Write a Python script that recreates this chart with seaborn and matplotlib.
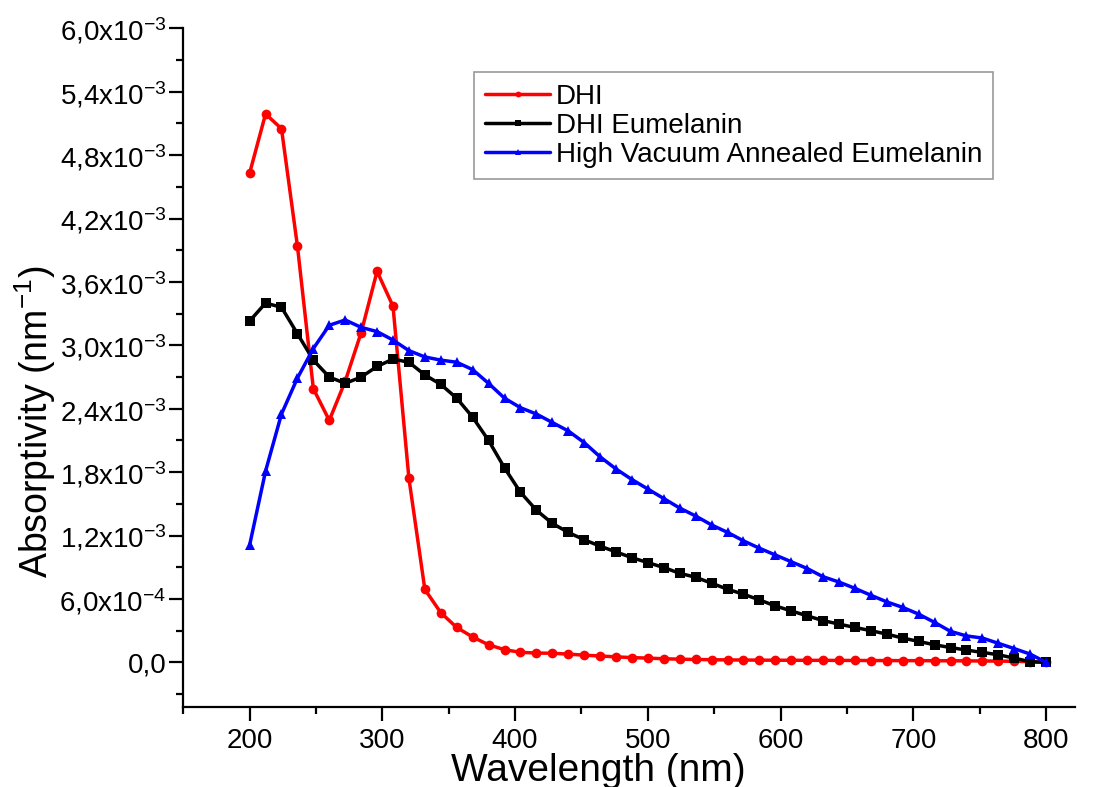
import matplotlib
matplotlib.use('Agg')
import matplotlib.pyplot as plt
import seaborn as sns
import pandas as pd
from matplotlib.ticker import MultipleLocator, FuncFormatter

# wavelength grid of the markers (nm)
wavelength = list(range(200, 801, 12))

# absorptivity in units of 1e-3 nm^-1
dhi = [4.63, 5.19, 5.05, 3.94, 2.59, 2.29, 2.66, 3.12, 3.70, 3.37,
       1.74, 0.69, 0.47, 0.33, 0.24, 0.166, 0.12, 0.095, 0.088, 0.086,
       0.078, 0.068, 0.060, 0.052, 0.045, 0.040, 0.034, 0.030, 0.027, 0.025,
       0.023, 0.022, 0.021, 0.020, 0.020, 0.019, 0.019, 0.018, 0.018, 0.017,
       0.017, 0.016, 0.016, 0.015, 0.015, 0.014, 0.013, 0.012, 0.010, 0.006,
       0.0]
dhi_eumelanin = [3.23, 3.40, 3.36, 3.11, 2.86, 2.70, 2.64, 2.70, 2.80, 2.87,
                 2.84, 2.72, 2.63, 2.50, 2.32, 2.10, 1.84, 1.61, 1.44, 1.315,
                 1.23, 1.16, 1.10, 1.045, 0.99, 0.944, 0.897, 0.843, 0.805, 0.749,
                 0.692, 0.645, 0.591, 0.534, 0.487, 0.44, 0.395, 0.362, 0.33, 0.30,
                 0.267, 0.23, 0.198, 0.166, 0.14, 0.116, 0.094, 0.072, 0.04, 0.006,
                 0.0]
hv_eumelanin = [1.11, 1.81, 2.35, 2.69, 2.97, 3.19, 3.24, 3.17, 3.13, 3.05,
                2.95, 2.89, 2.86, 2.84, 2.77, 2.64, 2.50, 2.41, 2.35, 2.27,
                2.19, 2.08, 1.945, 1.83, 1.73, 1.64, 1.55, 1.46, 1.385, 1.30,
                1.23, 1.15, 1.08, 1.016, 0.952, 0.888, 0.81, 0.76, 0.70, 0.635,
                0.572, 0.52, 0.456, 0.378, 0.293, 0.25, 0.23, 0.18, 0.13, 0.078,
                0.0]

names = ['DHI', 'DHI Eumelanin', 'High Vacuum Annealed Eumelanin']
series = [dhi, dhi_eumelanin, hv_eumelanin]

df = pd.DataFrame({
    'Wavelength': wavelength * 3,
    'Absorptivity': [v * 1e-3 for s in series for v in s],
    'Sample': [n for n, s in zip(names, series) for _ in s],
})

sns.set_style('ticks')
plt.rcParams['font.family'] = ['Liberation Sans', 'DejaVu Sans']
plt.rcParams['mathtext.default'] = 'regular'
plt.rcParams['text.color'] = 'black'
plt.rcParams['axes.labelcolor'] = 'black'
plt.rcParams['axes.edgecolor'] = 'black'

fig = plt.figure(figsize=(11.04, 7.87), dpi=100)
ax = fig.add_axes([0.166, 0.102, 0.808, 0.862])

palette = {'DHI': '#ff0000', 'DHI Eumelanin': '#000000',
           'High Vacuum Annealed Eumelanin': '#0000ff'}
markers = {'DHI': 'o', 'DHI Eumelanin': 's',
           'High Vacuum Annealed Eumelanin': '^'}
sns.lineplot(data=df, x='Wavelength', y='Absorptivity', hue='Sample',
             style='Sample', palette=palette, markers=markers, dashes=False,
             linewidth=2.5, markersize=7, markeredgewidth=0, ax=ax)

ax.set_xlim(150, 822)
ax.set_ylim(-0.00042, 0.006)
ax.xaxis.set_major_locator(MultipleLocator(100))
ax.xaxis.set_minor_locator(MultipleLocator(50))
ax.yaxis.set_major_locator(MultipleLocator(0.0006))
ax.yaxis.set_minor_locator(MultipleLocator(0.0003))


def sci_label(v, pos):
    if abs(v) < 1e-12:
        return '0,0'
    exp = 0
    m = v
    while abs(m) < 1:
        m *= 10
        exp -= 1
    return ('%.1f' % m).replace('.', ',') + 'x10$^{%d}$' % exp


ax.yaxis.set_major_formatter(FuncFormatter(sci_label))

for side in ['top', 'right']:
    ax.spines[side].set_visible(False)
for side in ['left', 'bottom']:
    ax.spines[side].set_linewidth(1.6)
ax.tick_params(which='major', direction='out', length=10, width=1.6,
               labelsize=20, colors='#000000')
ax.tick_params(which='minor', direction='out', length=5, width=1.6,
               colors='#000000')
ax.tick_params(axis='y', pad=2)
ax.tick_params(axis='x', pad=5)

ax.set_xlabel('Wavelength (nm)', fontsize=28, labelpad=0)
ax.set_ylabel('Absorptivity (nm$^{-1}$)', fontsize=27)
ax.xaxis.set_label_coords(0.465, -0.068)
ax.yaxis.set_label_coords(-0.14, 0.42)

leg = ax.legend(loc='upper left', bbox_to_anchor=(0.326, 0.935),
                fontsize=20, frameon=True, fancybox=False,
                edgecolor='#808080', handlelength=2.35, handletextpad=0.2,
                labelspacing=0.12, borderpad=0.4, markerscale=0.6,
                borderaxespad=0, labelcolor='black')
leg.get_frame().set_linewidth(1.2)

fig.savefig('out.png', dpi=100)
